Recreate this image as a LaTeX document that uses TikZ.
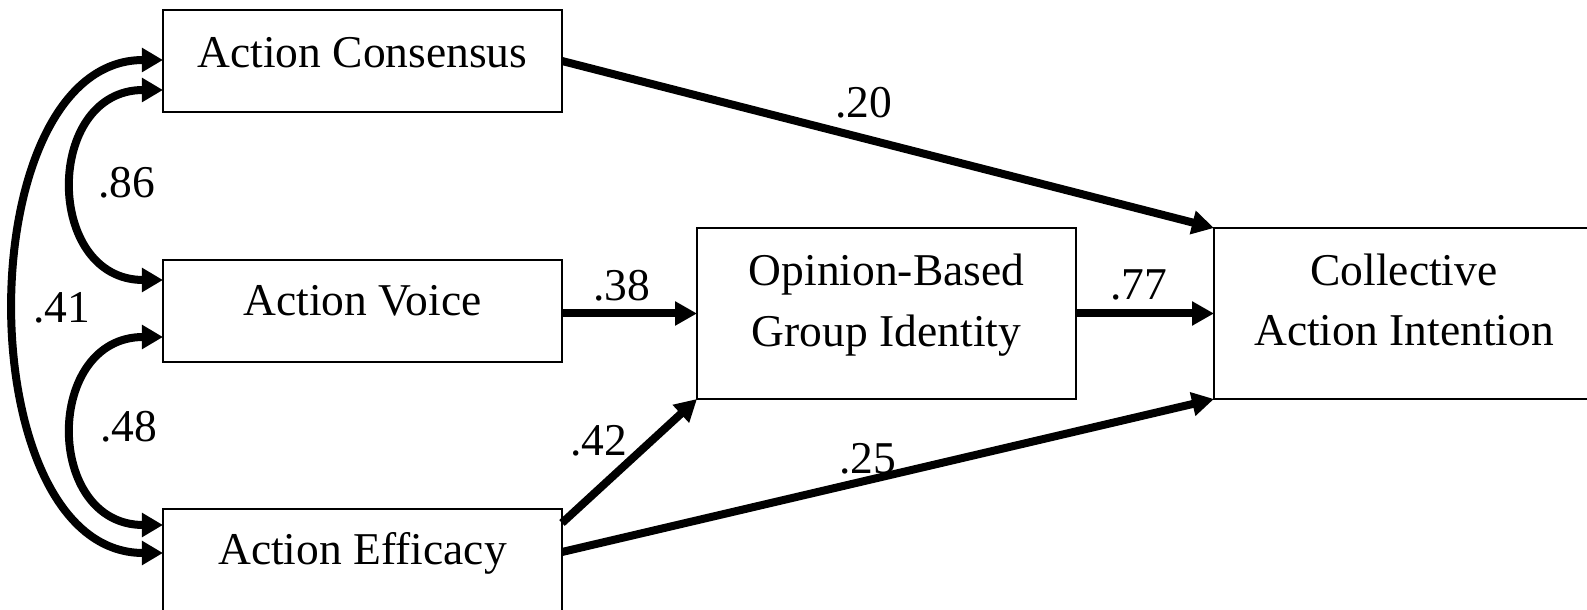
\documentclass[tikz,border=0pt]{standalone}
\usepackage{fontspec}
\setmainfont{Liberation Serif}
\usetikzlibrary{arrows.meta}

\tikzset{
  box/.style={draw=black, line width=2bp, rectangle, inner sep=0pt, outer sep=0pt},
  leftbox/.style={box, minimum width=399bp, minimum height=102bp},
  bigbox/.style={box, minimum width=380bp, minimum height=171bp},
  txt/.style={anchor=base, inner sep=0pt, font=\fontsize{45.5bp}{61bp}\selectfont},
  coef/.style={anchor=base, inner sep=0pt, font=\fontsize{45.5bp}{55bp}\selectfont},
  path arrow/.style={line width=8bp, -{Triangle[length=22bp,width=23bp]}},
  cov arrow/.style={line width=8bp, {Triangle[length=21bp,width=23bp]}-{Triangle[length=21bp,width=23bp]}},
}

\begin{document}
\begin{tikzpicture}[x=1bp, y=1bp]
  \useasboundingbox (0,0) rectangle (1587,610);
  \clip (0,0) rectangle (1587,610);

  % exogenous predictors
  \node[leftbox] (ac) at (362.5,549) {};
  \node[leftbox] (av) at (362.5,299) {};
  \node[leftbox] (ae) at (362.5,50) {};
  \node[txt] (acT) at (362.5,542) {Action Consensus};
  \node[txt] (avT) at (362.5,294) {Action Voice};
  \node[txt] (aeT) at (362.5,45) {Action Efficacy};

  % mediator and outcome
  \node[bigbox, minimum width=379bp] (ob) at (886.5,296.5) {};
  \node[txt] (obT1) at (886.5,324) {Opinion-Based};
  \node[txt] (obT2) at (886.5,263) {Group Identity};

  \node[bigbox] (ci) at (1404,296.5) {};
  \node[txt] (ciT1) at (1404,324.5) {Collective};
  \node[txt] (ciT2) at (1404,264) {Action Intention};

  % directed paths
  \draw[path arrow] (ac.east) -- (ci.north west);
  \draw[path arrow] (av.east |- ob.west) -- (ob.west);
  \draw[path arrow] (ob.east) -- (ci.west);
  \draw[path arrow] ([yshift=-14bp]ae.north east) -- (ob.south west);
  \draw[path arrow] ([yshift=8bp]ae.east) -- (ci.south west);

  % correlations between predictors
  \draw[cov arrow] ([yshift=-29bp]ac.west) .. controls +(-119,0) and +(-119,0) .. ([yshift=31bp]av.west);
  \draw[cov arrow] ([yshift=-26bp]av.west) .. controls +(-119,0) and +(-119,0) .. ([yshift=35bp]ae.west);
  \draw[cov arrow] ([yshift=1bp]ac.west) .. controls +(-196,0) and +(-196,0) .. ([yshift=7bp]ae.west);

  % coefficients
  \node[coef] (c20) at (864,492) {.20};
  \node[coef] (c38) at (621.5,309) {.38};
  \node[coef] (c77) at (1138.5,310) {.77};
  \node[coef] (c42) at (598.5,154) {.42};
  \node[coef] (c25) at (868,136) {.25};
  \node[coef] (c86) at (126.5,412) {.86};
  \node[coef] (c48) at (129,168) {.48};
  \node[coef] (c41) at (62,287) {.41};
\end{tikzpicture}
\end{document}
